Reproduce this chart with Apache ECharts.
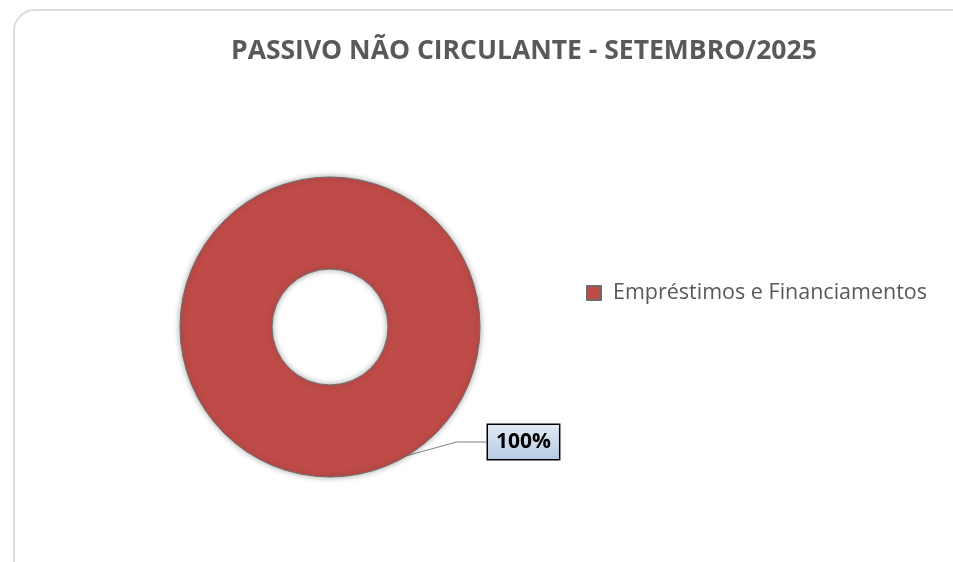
<!DOCTYPE html>
<html>
<head>
<meta charset="utf-8">
<script src="https://cdn.jsdelivr.net/npm/echarts@6/dist/echarts.min.js"></script>
<style>
  html, body { margin: 0; padding: 0; background: #fff; overflow: hidden; }
  .frame {
    position: absolute; left: 13px; top: 9px;
    width: 980px; height: 600px;
    border: 2px solid #dcdcdc; border-radius: 22px;
  }
  #chart { position: absolute; left: 0; top: 0; width: 953px; height: 562px; }
</style>
</head>
<body>
<div class="frame"></div>
<div id="chart"></div>
<script>
  var titleText = 'PASSIVO NÃO CIRCULANTE - SETEMBRO/2025';
  var categories = ['Empréstimos e Financiamentos'];
  var values = [100];

  var chart = echarts.init(document.getElementById('chart'));

  var pieData = categories.map(function (c, i) {
    return { name: c, value: values[i] };
  });

  chart.setOption({
    animation: false,
    color: ['#be4b48'],
    title: {
      text: titleText,
      left: 226,
      top: 33,
      textStyle: {
        fontFamily: 'Open Sans',
        fontSize: 26.5,
        fontWeight: 'bold',
        color: '#595959'
      }
    },
    legend: {
      orient: 'vertical',
      left: 581,
      top: 277,
      icon: 'rect',
      itemWidth: 14,
      itemHeight: 14,
      itemGap: 10,
      data: categories,
      textStyle: {
        fontFamily: 'Open Sans',
        fontSize: 21.5,
        color: '#595959',
        padding: [0, 0, 0, 7]
      }
    },
    series: [
      {
        name: 'passivo',
        type: 'pie',
        center: [330, 327],
        radius: [58, 150],
        startAngle: 90,
        data: pieData,
        itemStyle: {
          borderColor: '#6b6b6b',
          borderWidth: 1,
          shadowBlur: 6,
          shadowColor: 'rgba(0,0,0,0.35)'
        },
        label: {
          show: true,
          position: 'outside',
          formatter: '{d}%',
          fontFamily: 'Open Sans',
          fontSize: 21,
          fontWeight: 'bold',
          color: '#000',
          padding: [7, 8, 6, 8],
          borderColor: '#000',
          borderWidth: 1.5,
          backgroundColor: new echarts.graphic.LinearGradient(0, 0, 0, 1, [
            { offset: 0, color: '#e4ecf6' },
            { offset: 1, color: '#b4c8e2' }
          ])
        },
        labelLine: {
          show: true,
          lineStyle: { color: '#808080', width: 1 }
        },
        labelLayout: function () {
          return { x: 488, y: 442, align: 'left', verticalAlign: 'middle' };
        },
        emphasis: { disabled: true }
      }
    ]
  });
</script>
</body>
</html>
